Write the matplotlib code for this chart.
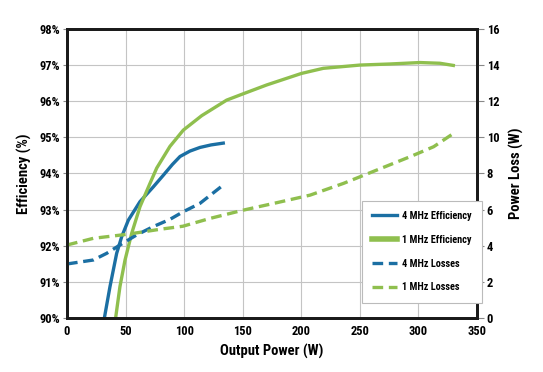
import matplotlib.pyplot as plt
from matplotlib import font_manager

# efficiency curves (left axis, %)
p_eff_4mhz = [31.9, 36.7, 42.4, 46.7, 52.4, 62.3, 73.7, 82.2, 90, 96.5,
              105, 113.5, 123, 133.4]
eff_4mhz = [90.0, 90.87, 91.79, 92.25, 92.71, 93.22, 93.63, 93.95, 94.25,
            94.47, 94.62, 94.72, 94.79, 94.84]

p_eff_1mhz = [41.5, 45.2, 49.5, 55.2, 62.3, 70.9, 76.6, 87.9, 99.3, 115,
              136.3, 150, 170.5, 200.3, 218.8, 250, 275.7, 301.3, 318.4, 329.8]
eff_1mhz = [90.0, 90.87, 91.6, 92.34, 93.08, 93.73, 94.15, 94.75, 95.2, 95.6,
            96.03, 96.2, 96.45, 96.77, 96.91, 97.0, 97.03, 97.07, 97.05, 96.99]

# loss curves (right axis, W)
p_loss_4mhz = [0, 22.5, 33.9, 45.2, 59.5, 73.7, 87.9, 99.2, 113.4, 133.4]
loss_4mhz = [2.99, 3.21, 3.58, 4.04, 4.6, 5.06, 5.46, 5.88, 6.34, 7.36]

p_loss_1mhz = [0, 22.5, 51, 79.4, 99, 122, 150.5, 179, 207.5, 236, 264.5,
               293, 313, 331.4]
loss_1mhz = [4.04, 4.41, 4.63, 4.91, 5.08, 5.51, 5.97, 6.38, 6.8, 7.45, 8.19,
             8.93, 9.48, 10.28]

x_ticks = [0, 50, 100, 150, 200, 250, 300, 350]
eff_ticks = [90, 91, 92, 93, 94, 95, 96, 97, 98]
loss_ticks = [0, 2, 4, 6, 8, 10, 12, 14, 16]

BLUE = "#1b6fa3"
GREEN = "#8fbf4e"
DASH = (0, (3.2, 1.7))

installed = {f.name for f in font_manager.fontManager.ttflist}
family = "DejaVu Sans"
for cand in ["Roboto Condensed", "Liberation Sans Narrow", "Open Sans Condensed"]:
    if cand in installed:
        family = cand
        break
plt.rcParams["font.family"] = family
plt.rcParams["font.weight"] = "bold"
plt.rcParams["font.stretch"] = "condensed"

fig = plt.figure(figsize=(5.43, 3.72), dpi=100)
ax = fig.add_axes([0.1234, 0.1452, 0.755, 0.777])
ax2 = ax.twinx()

ax.plot(p_eff_4mhz, eff_4mhz, color=BLUE, lw=2.4, label="4 MHz Efficiency")
ax.plot(p_eff_1mhz, eff_1mhz, color=GREEN, lw=2.4, label="1 MHz Efficiency")
ax2.plot(p_loss_4mhz, loss_4mhz, color=BLUE, lw=2.4, ls=DASH,
         label="4 MHz Losses")
ax2.plot(p_loss_1mhz, loss_1mhz, color=GREEN, lw=2.4, ls=DASH,
         label="1 MHz Losses")

ax.set_xlim(0, 350)
ax.set_ylim(90, 98)
ax2.set_ylim(0, 16)
ax.set_xticks(x_ticks)
ax.set_yticks(eff_ticks)
ax.set_yticklabels([f"{v}%" for v in eff_ticks])
ax2.set_yticks(loss_ticks)

ax.grid(True, color="#c4c4c4", lw=0.8)
ax.set_axisbelow(True)

for a in (ax, ax2):
    for s in a.spines.values():
        s.set_color("#1a1a1a")
        s.set_linewidth(2.0)
ax.tick_params(axis="both", labelsize=9, length=3, width=0.8, color="#888888", pad=2)
ax2.tick_params(axis="y", labelsize=9, length=5, width=0.8, color="#888888", pad=2)
ax.tick_params(axis="x", length=0, pad=5)

ax.set_xlabel("Output Power (W)", fontsize=10.5, fontweight="bold", labelpad=4)
ax.set_ylabel("Efficiency (%)", fontsize=10.5, fontweight="bold", labelpad=5)
ax2.set_ylabel("Power Loss (W)", fontsize=10.5, fontweight="bold", labelpad=7)

h1, l1 = ax.get_legend_handles_labels()
h2, l2 = ax2.get_legend_handles_labels()
leg = ax2.legend(h1 + h2, l1 + l2, loc="lower left",
                 bbox_to_anchor=(0.707, 0.035), fontsize=7.4,
                 fancybox=False, framealpha=1, edgecolor="#bbbbbb",
                 handlelength=2.4, labelspacing=1.35, borderpad=1.0,
                 handletextpad=0.5)
leg.get_frame().set_linewidth(0.8)
leg.legend_handles[1].set_linewidth(4)

fig.savefig("out.png", dpi=100)
